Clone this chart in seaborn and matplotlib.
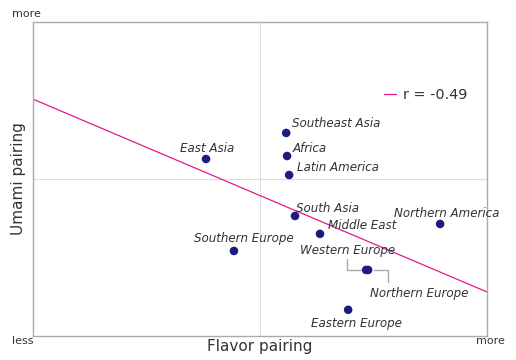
import numpy as np
import pandas as pd
import matplotlib
matplotlib.use("Agg")
import matplotlib.pyplot as plt
import seaborn as sns

# regions, values (centered scale, 0 = average)
regions = ["Southeast Asia", "Africa", "Latin America", "East Asia", "South Asia",
           "Middle East", "Northern America", "Southern Europe", "Western Europe",
           "Northern Europe", "Eastern Europe"]
flavor = [0.115, 0.119, 0.128, -0.238, 0.154, 0.264, 0.793, -0.115, 0.467, 0.476, 0.388]
umami = [0.293, 0.146, 0.025, 0.127, -0.236, -0.350, -0.287, -0.459, -0.580, -0.580, -0.834]
r_value = -0.49

# label offsets (points) and alignment
offsets = {
    "Southeast Asia": (4, 2, "left"),
    "Africa": (4, 1, "left"),
    "Latin America": (6, 1, "left"),
    "East Asia": (1, 3, "center"),
    "South Asia": (1, 1, "left"),
    "Middle East": (6, 1, "left"),
    "Northern America": (5, 3, "center"),
    "Southern Europe": (7, 4, "center"),
}

df = pd.DataFrame({"region": regions, "flavor": flavor, "umami": umami})

sns.set_style("white")
plt.rcParams["font.family"] = ["DejaVu Sans"]

fig, ax = plt.subplots(figsize=(5.16, 3.6), dpi=100)
fig.subplots_adjust(left=0.064, right=0.944, top=0.939, bottom=0.067)

ax.set_xlim(-1, 1)
ax.set_ylim(-1, 1)

ax.axvline(0, color="#dddddd", lw=0.8, zorder=0)
ax.axhline(0, color="#dddddd", lw=0.8, zorder=0)

# regression line
slope, intercept = np.polyfit(df["flavor"], df["umami"], 1)
xs = np.array([-1, 1])
ax.plot(xs, slope * xs + intercept, color="#e6198a", lw=0.9,
        label=f"r = {r_value:.2f}", zorder=1)

sns.scatterplot(data=df, x="flavor", y="umami", ax=ax, color="#1c1c80",
                s=38, edgecolor="none", zorder=3)

txt_kw = dict(fontsize=8.6, style="italic", color="#333333")
for _, row in df.iterrows():
    name = row["region"]
    if name in offsets:
        dx, dy, ha = offsets[name]
        ax.annotate(name, (row["flavor"], row["umami"]), xytext=(dx, dy),
                    textcoords="offset points", ha=ha, va="bottom", **txt_kw)

# Western / Northern Europe with leader lines
we = df[df["region"] == "Western Europe"].iloc[0]
ne = df[df["region"] == "Northern Europe"].iloc[0]
ax.annotate("Western Europe", (we["flavor"], we["umami"]), xytext=(-13, 9),
            textcoords="offset points", ha="center", va="bottom", **txt_kw)
ax.annotate("Northern Europe", (ne["flavor"], ne["umami"]), xytext=(37, -12),
            textcoords="offset points", ha="center", va="top", **txt_kw)
ax.annotate("", (we["flavor"], we["umami"]), xytext=(-14, 8),
            textcoords="offset points",
            arrowprops=dict(arrowstyle="-", color="#aaaaaa", lw=1,
                            connectionstyle="angle,angleA=-90,angleB=180,rad=0",
                            shrinkA=0, shrinkB=4))
ax.annotate("", (ne["flavor"], ne["umami"]), xytext=(14, -9),
            textcoords="offset points",
            arrowprops=dict(arrowstyle="-", color="#aaaaaa", lw=1,
                            connectionstyle="angle,angleA=90,angleB=0,rad=0",
                            shrinkA=0, shrinkB=4))
ee = df[df["region"] == "Eastern Europe"].iloc[0]
ax.annotate("Eastern Europe", (ee["flavor"], ee["umami"]), xytext=(6, -5),
            textcoords="offset points", ha="center", va="top", **txt_kw)

ax.set_xticks([])
ax.set_yticks([])
ax.set_xlabel("Flavor pairing", fontsize=11, color="#333333", labelpad=2)
ax.set_ylabel("Umami pairing", fontsize=11, color="#333333", labelpad=5)

ax.text(-0.023, -0.0, "less", transform=ax.transAxes, fontsize=8,
        color="#333333", ha="center", va="top")
ax.text(1.007, -0.0, "more", transform=ax.transAxes, fontsize=8,
        color="#333333", ha="center", va="top")
ax.text(-0.015, 1.01, "more", transform=ax.transAxes, fontsize=8,
        color="#333333", ha="center", va="bottom")

for sp in ax.spines.values():
    sp.set_color("#aaaaaa")
    sp.set_linewidth(1)

leg = ax.legend(loc="upper right", bbox_to_anchor=(0.985, 0.83), frameon=False,
                fontsize=10.4, handlelength=0.8, handletextpad=0.5)
for t in leg.get_texts():
    t.set_color("#333333")

fig.savefig("out.png", dpi=100)
